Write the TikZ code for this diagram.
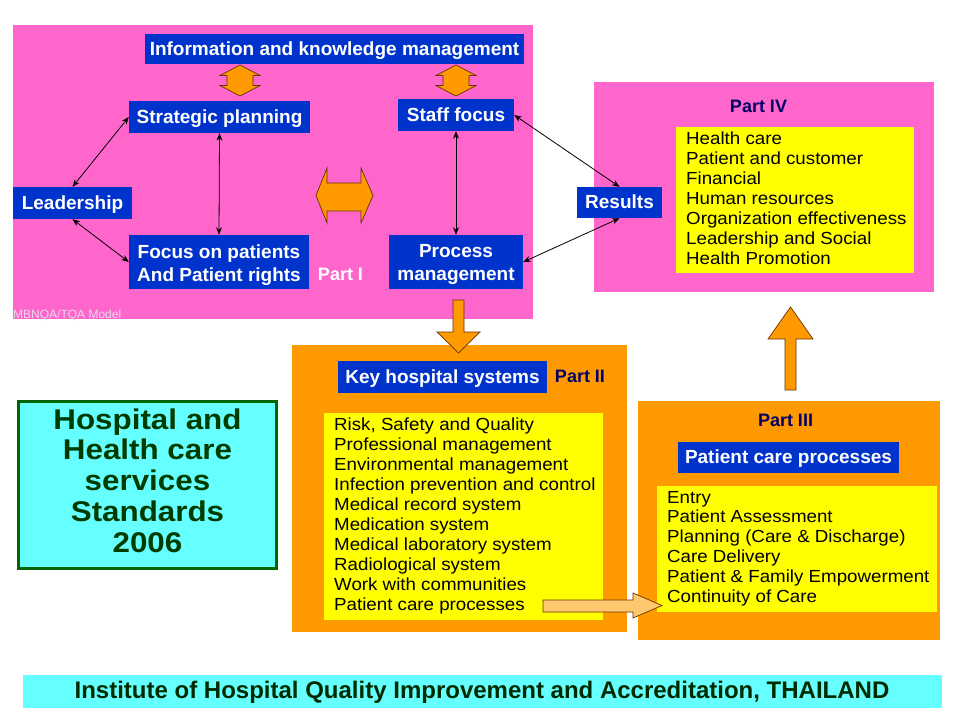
\documentclass[tikz,border=0pt]{standalone}
\usepackage{fontspec}
\setmainfont{Liberation Sans}
\newfontfamily\listfont[FakeStretch=1.07]{Liberation Sans}
\newfontfamily\titlefont[FakeStretch=1.1]{Liberation Sans}
\usetikzlibrary{arrows.meta}
\definecolor{pinkbg}{RGB}{255,102,204}
\definecolor{boxblue}{RGB}{0,51,204}
\definecolor{orangebg}{RGB}{255,153,0}
\definecolor{yellowbg}{RGB}{255,255,0}
\definecolor{cyanbg}{RGB}{102,255,255}
\definecolor{navy}{RGB}{0,0,102}
\definecolor{dkgreen}{RGB}{0,60,0}
\definecolor{bordergreen}{RGB}{0,102,0}
\definecolor{arrowedge}{RGB}{102,51,0}
\definecolor{lightorange}{RGB}{255,200,110}
\definecolor{mbgray}{RGB}{235,215,235}
\tikzset{
  bluebox/.style={fill=boxblue, text=white, font=\bfseries\fontsize{19}{23}\selectfont, inner sep=0pt, align=center, text height=17pt, text depth=5pt},
  bluetext/.style={text=white, font=\bfseries\fontsize{19}{23}\selectfont, inner sep=0pt, anchor=base},
  listtxt/.style={font=\listfont\fontsize{17.5}{20}\selectfont, inner sep=0pt, anchor=base west},
  partlbl/.style={font=\bfseries\fontsize{18}{20}\selectfont, text=navy, inner sep=0pt, anchor=base},
  titletxt/.style={font=\titlefont\bfseries\fontsize{28.5}{30}\selectfont, text=dkgreen, inner sep=0pt, anchor=base},
  link/.style={{Stealth[length=7.5pt,width=6pt]}-{Stealth[length=7.5pt,width=6pt]}, line width=0.8pt, black},
  bigarrow/.style={fill=orangebg, draw=arrowedge, line width=0.7pt, line join=miter},
  panelpink/.style={fill=pinkbg},
  panelorange/.style={fill=orangebg},
  panelyellow/.style={fill=yellowbg}
}
\begin{document}
\begin{tikzpicture}[x=1pt,y=-1pt]
\fill[white] (0,0) rectangle (960,720);
\useasboundingbox (0,0) rectangle (960,720);
% panels
\fill[panelpink] (13,25) rectangle (533,319);
\fill[panelpink] (594,82) rectangle (934,292);
\fill[panelyellow] (676,127) rectangle (914,273);
\fill[panelorange] (292,345) rectangle (627,632);
\fill[panelyellow] (324,413) rectangle (603,620);
\fill[panelorange] (638,401) rectangle (940,640);
\fill[panelyellow] (657,486) rectangle (937,612);
% Part I nodes
\node[bluebox, minimum width=379, minimum height=30] (info) at (334.5,49) {Information and knowledge management};
\node[bluebox, minimum width=181, minimum height=32] (strat) at (219.5,117) {Strategic planning};
\node[bluebox, minimum width=116, minimum height=32] (staff) at (456,115) {Staff focus};
\node[bluebox, minimum width=119, minimum height=32] (leader) at (72.5,203) {Leadership};
\node[fill=boxblue, inner sep=0pt, minimum width=180, minimum height=54] (focus) at (219,262) {};
\node[bluetext] (focus-1) at (219,258) {Focus on patients};
\node[bluetext] (focus-2) at (219,281) {And Patient rights};
\node[fill=boxblue, inner sep=0pt, minimum width=134, minimum height=54] (process) at (456,262) {};
\node[bluetext] (process-1) at (456,257.5) {Process};
\node[bluetext] (process-2) at (456,280.5) {management};
\node[bluebox, minimum width=85, minimum height=31] (results) at (619.5,202.5) {Results};
\node[font=\bfseries\fontsize{18}{20}\selectfont, text=white, inner sep=0pt, anchor=base] (part1) at (340.5,280) {Part I};
\node[font=\fontsize{12}{12}\selectfont, text=mbgray, inner sep=0pt, anchor=base west] (mbnqa) at (13,318) {MBNQA/TQA Model};
% connectors
\draw[link] (leader.north) -- (strat.west);
\draw[link] (leader.south) -- (focus.west);
\draw[link] (strat.south) -- (focus.north);
\draw[link] (staff.south) -- (process.north);
\draw[link] (staff.east) -- (results.north);
\draw[link] (results.south) -- (process.east);
% orange arrows in Part I
\foreach \cx in {240,456}
  \draw[bigarrow] (\cx,65) -- (\cx+20,75.5) -- (\cx+13,75.5) -- (\cx+13,85.5) -- (\cx+20,85.5) -- (\cx,96) -- (\cx-20,85.5) -- (\cx-13,85.5) -- (\cx-13,75.5) -- (\cx-20,75.5) -- cycle;
\draw[bigarrow] (316,195.5) -- (327,168) -- (327,183) -- (361,183) -- (361,168) -- (373,195.5) -- (361,223) -- (361,211) -- (327,211) -- (327,223) -- cycle;
% Part IV
\node[partlbl] (part4) at (758.5,112) {Part IV};
\foreach \t [count=\i] in {Health care, Patient and customer, Financial, Human resources, Organization effectiveness, Leadership and Social, Health Promotion}
  \node[listtxt] (p4-\i) at (686,{144+20*(\i-1)}) {\t};
% Part II
\node[bluebox, minimum width=209, minimum height=32] (keysys) at (442.5,377) {Key hospital systems};
\node[partlbl] (part2) at (580,382) {Part II};
\foreach \t [count=\i] in {{Risk, Safety and Quality}, Professional management, Environmental management, Infection prevention and control, Medical record system, Medication system, Medical laboratory system, Radiological system, Work with communities, Patient care processes}
  \node[listtxt] (p2-\i) at (334,{430+20*(\i-1)}) {\t};
% Part III
\node[partlbl] (part3) at (785.5,426) {Part III};
\node[bluebox, minimum width=221, minimum height=31] (pcp) at (788.5,457.5) {Patient care processes};
\foreach \t [count=\i] in {Entry, Patient Assessment, Planning (Care \& Discharge), Care Delivery, Patient \& Family Empowerment, Continuity of Care}
  \node[listtxt] (p3-\i) at (667,{503+19.8*(\i-1)}) {\t};
% big arrows between parts
\draw[bigarrow] (453,300) -- (464,300) -- (464,332) -- (480,332) -- (458.5,353) -- (437,332) -- (453,332) -- cycle;
\draw[bigarrow] (785,390) -- (796,390) -- (796,339) -- (813,339) -- (790.5,307) -- (768,339) -- (785,339) -- cycle;
\draw[bigarrow, fill=lightorange] (543,600) -- (633,600) -- (633,593) -- (662,605.5) -- (633,618) -- (633,612) -- (543,612) -- cycle;
% title box
\node[draw=bordergreen, line width=3pt, fill=cyanbg, minimum width=258, minimum height=167, inner sep=0pt] (title) at (147.5,485) {};
\foreach \t [count=\i] in {Hospital and, Health care, services, Standards, 2006}
  \node[titletxt] (title-\i) at (147.5,{429+30.8*(\i-1)}) {\t};
% banner
\node[fill=cyanbg, minimum width=919, minimum height=33, inner sep=0pt] (banner) at (482.5,691.5) {};
\node[font=\bfseries\fontsize{24}{26}\selectfont, text=dkgreen!70!black, inner sep=0pt, anchor=base] (bannertxt) at (482,698) {Institute of Hospital Quality Improvement and Accreditation, THAILAND};
\end{tikzpicture}
\end{document}
